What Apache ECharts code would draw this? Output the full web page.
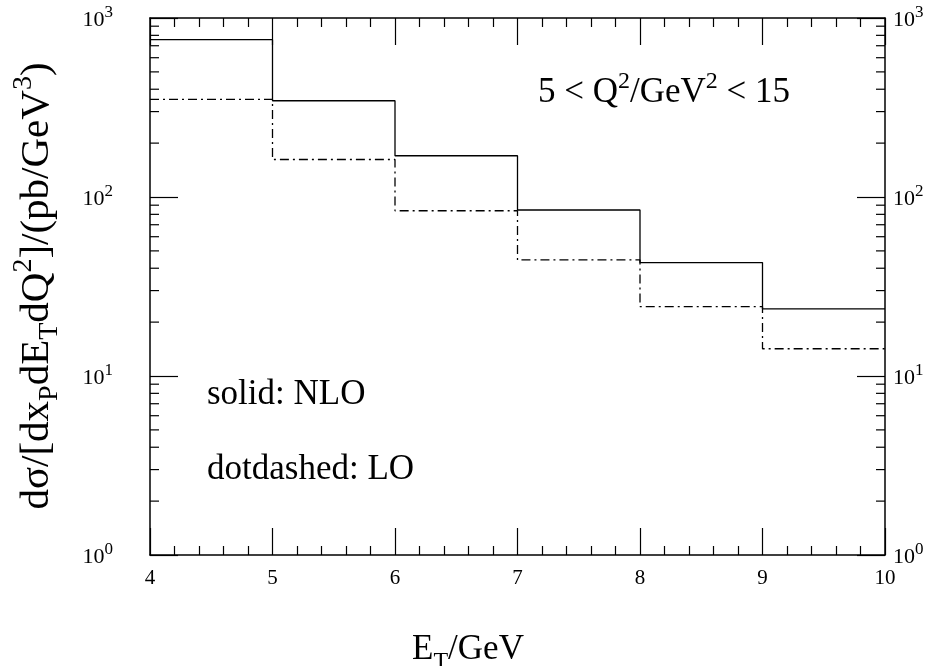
<!DOCTYPE html>
<html>
<head>
<meta charset="utf-8">
<script src="https://cdn.jsdelivr.net/npm/echarts@6/dist/echarts.min.js"></script>
<style>
html,body{margin:0;padding:0;background:#fff;}
#chart{width:936px;height:666px;}
</style>
</head>
<body>
<div id="chart"></div>
<script>
// Bin edges in E_T (GeV)
var binEdges = [4, 5, 6, 7, 8, 9, 10];
// NLO (solid) cross section per bin, pb/GeV^3
var nloValues = [757, 345, 170, 84.6, 43.0, 23.7];
// LO (dot-dashed) cross section per bin, pb/GeV^3
var loValues = [351, 162, 83.8, 44.5, 24.4, 14.2];
// Y axis decade exponents for tick labels
var yTickExponents = ['0', '1', '2', '3'];
// Y minor tick positions (log axis, 2..9 per decade)
var yMinorTicks = [2,3,4,5,6,7,8,9,20,30,40,50,60,70,80,90,200,300,400,500,600,700,800,900];
// X tick labels
var xTickLabels = ['4', '5', '6', '7', '8', '9', '10'];

var FONT = "'Liberation Serif','DejaVu Serif',serif";

function histData(vals) {
  return binEdges.map(function (e, i) {
    return [e, vals[Math.min(i, vals.length - 1)]];
  });
}

var chart = echarts.init(document.getElementById('chart'), null, {renderer: 'canvas'});

var expLabel = function (v) {
  var k = Math.round(Math.log(v) / Math.LN10);
  return '{base|10}{sup|' + yTickExponents[k] + '}';
};
var tickRich = {
  base: {fontSize: 22, fontFamily: FONT, color: '#000', lineHeight: 27, verticalAlign: 'bottom'},
  sup: {fontSize: 17, fontFamily: FONT, color: '#000', lineHeight: 27, verticalAlign: 'top'}
};

var axisLineStyle = {color: '#000', width: 1.5};

function xAxisCfg(pos, showLabel) {
  return {
    type: 'value', position: pos, min: 4, max: 10, interval: 1,
    axisLine: {show: true, onZero: false, lineStyle: axisLineStyle},
    axisTick: {show: true, inside: true, length: 27, lineStyle: {color: '#000', width: 1.2}},
    minorTick: {show: true, splitNumber: 5, length: 9, lineStyle: {color: '#000', width: 1.2}},
    splitLine: {show: false},
    minorSplitLine: {show: false},
    axisLabel: {
      show: showLabel, margin: 13, fontSize: 21, fontFamily: FONT, color: '#000',
      formatter: function (v) { return xTickLabels[Math.round(v - 4)]; }
    }
  };
}
function yAxisCfg(pos, margin) {
  return {
    type: 'log', logBase: 10, position: pos, min: 1, max: 1000,
    axisLine: {show: true, onZero: false, lineStyle: axisLineStyle},
    axisTick: {show: true, inside: true, length: 28, lineStyle: {color: '#000', width: 1.2}},
    minorTick: {show: false},
    splitLine: {show: false},
    axisLabel: {
      show: true, margin: margin, formatter: expLabel, rich: tickRich,
      fontSize: 22, fontFamily: FONT, color: '#000',
      align: pos === 'left' ? 'right' : 'left', verticalAlign: 'middle'
    }
  };
}

var option = {
  backgroundColor: '#fff',
  animation: false,
  grid: {left: 150, right: 51, top: 18, bottom: 111, containLabel: false},
  xAxis: [xAxisCfg('bottom', true), xAxisCfg('top', false)],
  yAxis: [yAxisCfg('left', 37), yAxisCfg('right', 8)],
  series: [
    {
      type: 'line', name: 'NLO', step: 'end', showSymbol: false, symbol: 'none',
      data: histData(nloValues), xAxisIndex: 0, yAxisIndex: 0,
      lineStyle: {color: '#000', width: 1.3, type: 'solid'}, z: 5
    },
    {
      type: 'line', name: 'LO', step: 'end', showSymbol: false, symbol: 'none',
      data: histData(loValues), xAxisIndex: 0, yAxisIndex: 0,
      lineStyle: {color: '#000', width: 1.3, type: [9, 4, 2, 4]}, z: 5
    },
    {
      type: 'custom', xAxisIndex: 0, yAxisIndex: 0, silent: true, z: 6,
      data: yMinorTicks.map(function (v) { return [4, v]; }),
      renderItem: function (params, api) {
        var pl = api.coord([4, api.value(1)]);
        var pr = api.coord([10, api.value(1)]);
        return {
          type: 'group',
          children: [
            {type: 'line', shape: {x1: pl[0], y1: pl[1], x2: pl[0] + 9, y2: pl[1]}, style: {stroke: '#000', lineWidth: 1.2}},
            {type: 'line', shape: {x1: pr[0], y1: pr[1], x2: pr[0] - 9, y2: pr[1]}, style: {stroke: '#000', lineWidth: 1.2}}
          ]
        };
      }
    }
  ],
  graphic: [
    {
      type: 'text', x: 37, y: 286, rotation: Math.PI / 2,
      style: {
        text: 'dσ/[dx{sub|P}dE{sub|T}dQ{sup|2}]/(pb/GeV{sup|3})',
        fontSize: 41, fontFamily: FONT, fill: '#000', align: 'center', verticalAlign: 'middle',
        rich: {
          sub: {fontSize: 28, fontFamily: FONT, verticalAlign: 'bottom', lineHeight: 54},
          sup: {fontSize: 28, fontFamily: FONT, verticalAlign: 'top', lineHeight: 54}
        },
        lineHeight: 54
      }
    },
    {
      type: 'text', x: 468, y: 650,
      style: {
        text: 'E{sub|T}/GeV',
        fontSize: 35, fontFamily: FONT, fill: '#000', align: 'center', verticalAlign: 'middle',
        lineHeight: 48,
        rich: {sub: {fontSize: 24, fontFamily: FONT, verticalAlign: 'bottom', lineHeight: 48}}
      }
    },
    {
      type: 'text', x: 538, y: 93,
      style: {
        text: '5 < Q{sup|2}/GeV{sup|2} < 15',
        fontSize: 35, fontFamily: FONT, fill: '#000', align: 'left', verticalAlign: 'middle',
        lineHeight: 46,
        rich: {sup: {fontSize: 24, fontFamily: FONT, verticalAlign: 'top', lineHeight: 46}}
      }
    },
    {
      type: 'text', x: 207, y: 395,
      style: {text: 'solid: NLO', fontSize: 35, fontFamily: FONT, fill: '#000', align: 'left', verticalAlign: 'middle'}
    },
    {
      type: 'text', x: 207, y: 470,
      style: {text: 'dotdashed: LO', fontSize: 35, fontFamily: FONT, fill: '#000', align: 'left', verticalAlign: 'middle'}
    }
  ]
};
chart.setOption(option);
</script>
</body>
</html>
